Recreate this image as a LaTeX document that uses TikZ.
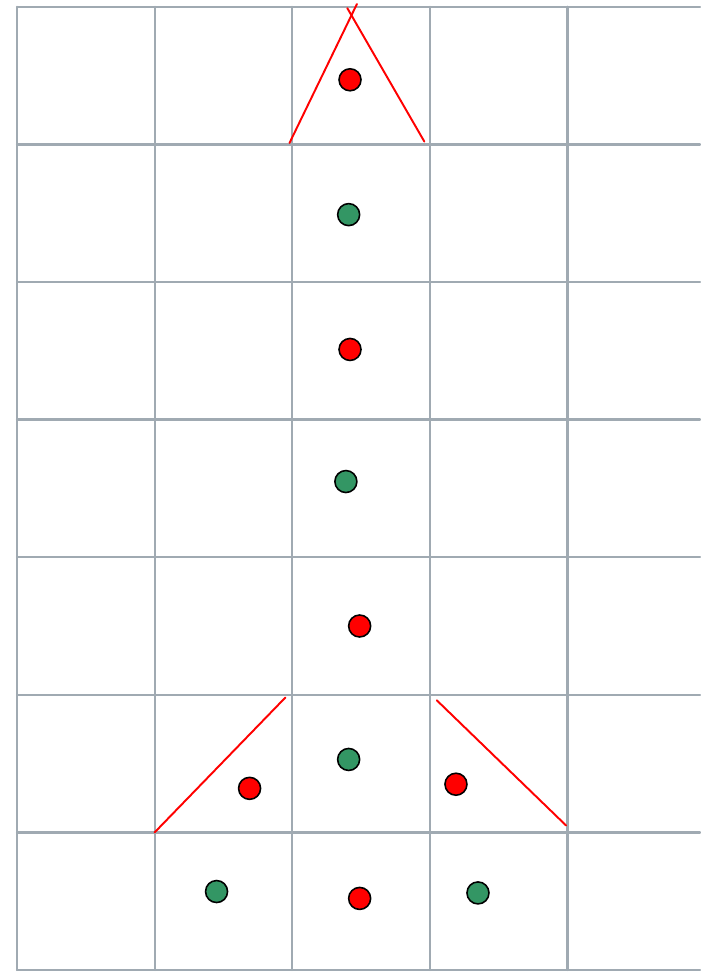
\documentclass[tikz,border=0pt]{standalone}
\usepackage{tikz}
\usetikzlibrary{calc}
\definecolor{gridgray}{RGB}{160,170,178}
\definecolor{ballgreen}{RGB}{51,150,100}
\tikzset{
  ball/.style={circle,draw=black,line width=0.9pt,minimum size=0.44cm,inner sep=0pt},
  redball/.style={ball,fill=red},
  greenball/.style={ball,fill=ballgreen}
}

\begin{document}
\begin{tikzpicture}[cap=round,scale=2.75]
\useasboundingbox (-0.124,-0.022) rectangle (4.964,7.05);
\foreach \i in {0,...,4}
  \draw[gridgray,line width=1.3pt] (\i,0) -- (\i,7);
\foreach \j in {0,...,7}
  \draw[gridgray,line width=1.3pt] (0,\j) -- (4.964,\j);
\coordinate (T1) at (1.98,6.01);
\coordinate (T2) at (2.47,7.02);
\coordinate (T3) at (2.96,6.02);
\coordinate (T4) at (2.40,6.99);
\coordinate (L1) at (1.00,1.00);
\coordinate (L2) at (1.95,1.98);
\coordinate (R1) at (3.05,1.96);
\coordinate (R2) at (3.99,1.05);
\draw [line width=1.1pt,red] (T1) -- (T2);
\draw [line width=1.1pt,red] (T3) -- (T4);
\draw [line width=1.1pt,red] (L1) -- (L2);
\draw [line width=1.1pt,red] (R1) -- (R2);
\node[redball] (r1) at (2.42,6.47) {};
\node[greenball] (g1) at (2.41,5.49) {};
\node[redball] (r2) at (2.42,4.51) {};
\node[greenball] (g2) at (2.39,3.55) {};
\node[redball] (r3) at (2.49,2.50) {};
\node[greenball] (g3) at (2.41,1.53) {};
\node[redball] (r4) at (1.69,1.32) {};
\node[redball] (r5) at (3.19,1.35) {};
\node[greenball] (g4) at (1.45,0.57) {};
\node[redball] (r6) at (2.49,0.52) {};
\node[greenball] (g5) at (3.35,0.56) {};
\end{tikzpicture}
\end{document}
